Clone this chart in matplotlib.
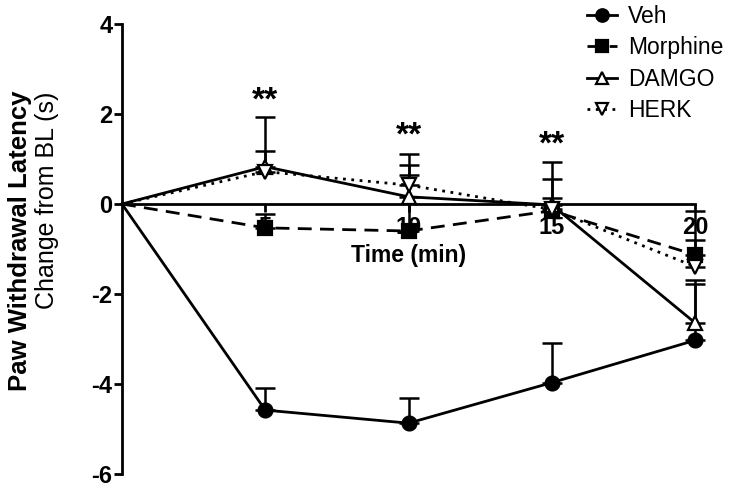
import matplotlib
matplotlib.use("Agg")
import matplotlib.pyplot as plt
import numpy as np

plt.rcParams['font.family'] = ['Liberation Sans', 'DejaVu Sans']

time = [0, 5, 10, 15, 20]
veh = [0, -4.58, -4.87, -3.97, -3.03]
veh_err = [0, 0.48, 0.55, 0.87, 1.26]
morphine = [0, -0.53, -0.60, -0.15, -1.13]
morphine_err = [0, 0.30, 1.24, 0.28, 0.98]
damgo = [0, 0.83, 0.16, -0.02, -2.64]
damgo_err = [0, 1.10, 0.95, 0.96, 0.94]
herk = [0, 0.72, 0.42, -0.12, -1.39]
herk_err = [0, 0.46, 0.45, 0.67, 0.59]
star_x = [5, 10, 15]
star_y = [2.28, 1.5, 1.3]
xticks = [5, 10, 15, 20]
yticks = [-6, -4, -2, 0, 2, 4]

fig = plt.figure(figsize=(7.31, 4.91), dpi=100)
ax = fig.add_axes([122/731, 1-474/491, (695-122)/731, (474-24)/491])

series = [
    ("Veh", veh, veh_err, 'o', '-', 'black'),
    ("Morphine", morphine, morphine_err, 's', (0, (5, 3)), 'black'),
    ("DAMGO", damgo, damgo_err, '^', '-', 'white'),
    ("HERK", herk, herk_err, 'v', (0, (1, 2)), 'white'),
]
handles = []
for name, y, e, m, ls, fc in series:
    y = np.array(y)
    e = np.array(e)
    ax.errorbar(time[1:], y[1:], yerr=[np.zeros(4), e[1:]], fmt='none',
                ecolor='black', elinewidth=1.8, capsize=7, capthick=1.8,
                clip_on=False, zorder=2)
    ln, = ax.plot(time, y, linestyle=ls, color='black', linewidth=2.0,
                  marker=m, markevery=[1, 2, 3, 4], markersize=10,
                  markerfacecolor=fc, markeredgecolor='black',
                  markeredgewidth=1.6, clip_on=False, zorder=3, label=name)
    handles.append(ln)

for sx, sy in zip(star_x, star_y):
    ax.text(sx, sy, "**", ha='center', va='center', fontsize=24,
            fontweight='bold')

ax.set_xlim(0, 20)
ax.set_ylim(-6, 4)
ax.spines['top'].set_visible(False)
ax.spines['right'].set_visible(False)
ax.spines['bottom'].set_position(('data', 0))
ax.spines['left'].set_linewidth(2)
ax.spines['bottom'].set_linewidth(2)
ax.set_xticks(xticks)
ax.set_xticklabels([str(t) for t in xticks], fontsize=17, fontweight='bold')
ax.set_yticks(yticks)
ax.set_yticklabels([str(t) for t in yticks], fontsize=17, fontweight='bold')
ax.tick_params(axis='y', direction='out', length=6, width=2, pad=1)
ax.tick_params(axis='x', direction='out', length=6, width=2, pad=3)
ax.set_xlabel("Time (min)", fontsize=16.5, fontweight='bold', labelpad=3)

fig.text(20/731, 1-241/491, "Paw Withdrawal Latency", rotation=90,
         ha='center', va='center', fontsize=18.5, fontweight='bold')
fig.text(47/731, 1-200/491, "Change from BL (s)", rotation=90,
         ha='center', va='center', fontsize=18)

leg = fig.legend(handles=handles, loc='upper left',
                 bbox_to_anchor=(587/731, 1-5/491), frameon=False,
                 fontsize=16.5, handlelength=1.3, handletextpad=0.48,
                 labelspacing=0.37, borderaxespad=0, borderpad=0,
                 markerscale=0.9)

fig.savefig("out.png", dpi=100)
